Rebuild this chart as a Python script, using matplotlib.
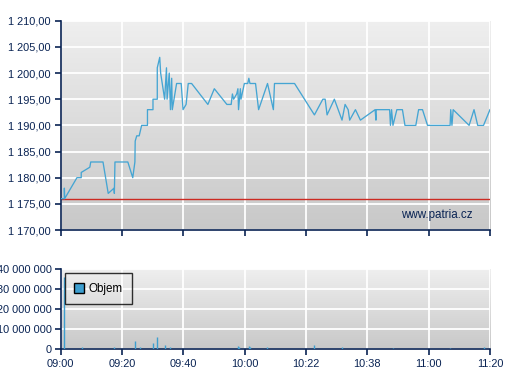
import matplotlib
matplotlib.use('Agg')
import matplotlib.pyplot as plt
import numpy as np
from matplotlib.ticker import FuncFormatter, MultipleLocator
from matplotlib.lines import Line2D

# x axis of the source is not linear in time: the labelled times sit at equal spacing
tick_labels = ['09:00', '09:20', '09:40', '10:00', '10:22', '10:38', '11:00', '11:20']
tick_minutes = [0, 20, 40, 60, 82, 98, 120, 140]

# price trades (minutes after 09:00, price)
price_minutes = [
	0.0, 1.2, 1.2, 1.3, 5.3, 6.7, 6.7, 9.5, 9.8, 13.8, 15.5, 17.4, 17.5, 17.7,
	21.9, 23.5, 24.2, 24.3, 24.8, 25.6, 26.4, 28.3, 28.3, 30.1, 30.1, 31.5,
	31.5, 32.3, 32.6, 33.9, 34.5, 34.7, 35.4, 35.8, 36.2, 36.4, 37.8, 39.3,
	39.9, 40.9, 41.6, 42.7, 48.0, 50.1, 54.2, 55.6, 56.0, 56.4, 57.4, 57.8,
	58.0, 58.6, 58.8, 59.9, 61.1, 61.5, 61.9, 63.9, 65.0, 68.2, 70.3, 70.7,
	77.9, 84.2, 86.4, 87.0, 87.5, 89.4, 91.4, 92.2, 93.0, 93.4, 94.9, 96.2,
	100.8, 101.1, 101.2, 106.0, 106.3, 106.7, 107.2, 108.6, 110.6, 111.5,
	115.4, 116.4, 117.8, 119.6, 127.0, 127.2, 127.6, 128.0, 133.2, 134.8,
	136.0, 137.9, 140.0,
]
prices = [
	1176, 1176, 1178, 1176, 1180, 1180, 1181, 1182, 1183, 1183, 1177, 1178, 1177, 1183,
	1183, 1180, 1183, 1187, 1188, 1188, 1190, 1190, 1193, 1193, 1195, 1195,
	1201, 1203, 1200, 1195, 1201, 1195, 1200, 1193, 1199, 1193, 1198, 1198,
	1193, 1194, 1198, 1198, 1194, 1197, 1194, 1194, 1196, 1195, 1196, 1197,
	1193, 1197, 1195, 1198, 1198, 1199, 1198, 1198, 1193, 1198, 1193, 1198,
	1198, 1192, 1195, 1195, 1192, 1195, 1191, 1194, 1193, 1191, 1193, 1191,
	1193, 1191, 1193, 1193, 1190, 1193, 1190, 1193, 1193, 1190,
	1190, 1193, 1193, 1190, 1190, 1193, 1190, 1193, 1190, 1193,
	1190, 1190, 1193,
]
prev_close = 1176

# traded volume (minutes after 09:00, shares)
volume_minutes = [1.2, 6.8, 17.5, 24.3, 26.0, 30.2, 31.5, 34.1, 35.8, 57.8, 58.2,
	61.4, 62.0, 68.0, 84.2, 91.4, 107.2, 127.1, 137.9]
volumes = [36.0e6, 0.8e6, 0.7e6, 4.0e6, 0.7e6, 2.9e6, 6.0e6, 1.9e6, 0.7e6, 1.3e6, 0.8e6,
	1.4e6, 0.6e6, 0.6e6, 1.9e6, 0.6e6, 0.5e6, 0.5e6, 0.6e6]

NAVY = '#0a2454'
LINE = '#45a5d3'

plt.rcParams['font.family'] = ['Liberation Sans', 'DejaVu Sans']
plt.rcParams['font.size'] = 7.9


def to_pos(minutes):
	return np.interp(minutes, tick_minutes, np.arange(len(tick_minutes)))


def price_fmt(v, _):
	s = f'{v:,.2f}'
	return s.replace(',', ' ').replace('.', ',')


def vol_fmt(v, _):
	return f'{v:,.0f}'.replace(',', ' ')


def style_axes(ax):
	grad = np.linspace(0, 1, 256).reshape(-1, 1)
	ax.imshow(grad, cmap=matplotlib.colors.LinearSegmentedColormap.from_list(
		'bg', ['#efefef', '#c8c8c8']), extent=(0, 1, 0, 1), transform=ax.transAxes,
		aspect='auto', zorder=0, origin='upper')
	ax.set_axisbelow(True)
	ax.grid(True, color='white', linewidth=1.3)
	for side in ('top', 'right'):
		ax.spines[side].set_visible(False)
	for side in ('left', 'bottom'):
		ax.spines[side].set_color(NAVY)
		ax.spines[side].set_linewidth(1.2)
	ax.tick_params(colors=NAVY, labelcolor=NAVY, length=4, width=1.2, direction='out')
	ax.set_xlim(0, len(tick_minutes) - 1)
	ax.set_xticks(np.arange(len(tick_minutes)))


fig = plt.figure(figsize=(5.07, 3.80), dpi=100)
ax = fig.add_axes([0.1197, 0.3947, 0.8467, 0.5508])
axv = fig.add_axes([0.1197, 0.0824, 0.8467, 0.2097])

style_axes(ax)
ax.set_ylim(1170, 1210)
ax.yaxis.set_major_locator(MultipleLocator(5))
ax.yaxis.set_major_formatter(FuncFormatter(price_fmt))
ax.set_xticklabels([])
ax.axhline(prev_close, color='#cc2a22', linewidth=1.0, zorder=2)
ax.plot(to_pos(price_minutes), prices, color=LINE, linewidth=0.95, zorder=3)
ax.text(0.96, 0.07, 'www.patria.cz', transform=ax.transAxes, ha='right', va='center',
	color=NAVY, fontsize=8.4)

style_axes(axv)
axv.set_ylim(0, 40e6)
axv.yaxis.set_major_locator(MultipleLocator(10e6))
axv.yaxis.set_major_formatter(FuncFormatter(vol_fmt))
axv.tick_params(axis='y', pad=2.5)
axv.set_xticklabels(tick_labels)
axv.vlines(to_pos(volume_minutes), 0, volumes, color='#3d9fd0', linewidth=1.0, zorder=3)
handle = Line2D([], [], marker='s', linestyle='none', markersize=7,
	markerfacecolor='#3d9fd0', markeredgecolor='black', markeredgewidth=1.0)
leg = axv.legend([handle], ['Objem'], loc='upper left', bbox_to_anchor=(0.01, 0.946),
	borderaxespad=0, frameon=True, fancybox=False, handletextpad=0.4, borderpad=0.8,
	handlelength=0.8, fontsize=8.4)
leg.get_frame().set_edgecolor('black')
leg.get_frame().set_facecolor('none')
leg.get_frame().set_linewidth(1.0)

fig.savefig('out.png', dpi=100)
